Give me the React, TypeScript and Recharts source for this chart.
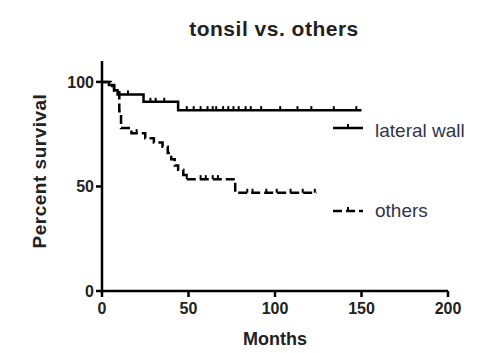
import React from 'react'
import { ComposedChart, Line, Scatter, XAxis, YAxis, Customized } from 'recharts'

// Kaplan-Meier steps: month, percent survival
const lateralWall = [
  { m: 0, s: 100 }, { m: 4, s: 98.5 }, { m: 7, s: 96 }, { m: 9, s: 94 },
  { m: 24, s: 90.5 }, { m: 44, s: 86.5 }, { m: 150, s: 86.5 },
]
const others = [
  { m: 0, s: 100 }, { m: 5, s: 98 }, { m: 7, s: 95 }, { m: 10, s: 86 },
  { m: 11, s: 78 }, { m: 17, s: 75.5 }, { m: 25, s: 73 }, { m: 30, s: 71 },
  { m: 35, s: 69 }, { m: 38, s: 66 }, { m: 40, s: 63 }, { m: 42, s: 60 },
  { m: 44, s: 58 }, { m: 47, s: 55.5 }, { m: 49, s: 53.5 }, { m: 76, s: 53.5 },
  { m: 77, s: 47 }, { m: 124, s: 47 },
]
// censored observations (tick marks)
const lateralCensor = [
  15, 28, 31, 36, 49, 53, 57, 61, 64, 66, 70, 73, 76, 79, 83, 86, 92, 103, 113, 121, 134, 147,
].map(m => ({ m, s: m < 24 ? 94 : m < 44 ? 90.5 : 86.5 }))
const othersCensor = [20, 49, 57, 60, 64, 67, 84, 87, 95, 101, 109, 116, 123]
  .map(m => ({ m, s: m < 25 ? 75.5 : m < 77 ? 53.5 : 47 }))

const xTicks = [0, 50, 100, 150, 200]
const yTicks = [0, 50, 100]

const FONT = '"Liberation Sans", Arial, sans-serif'
const tickStyle = { fontSize: 16, fill: '#222', fontWeight: 'bold', fontFamily: FONT }

const CensorMark = (p: any) => (
  <line x1={p.cx} x2={p.cx} y1={p.cy - 4} y2={p.cy} stroke="#000" strokeWidth={2} />
)

const Overlay = () => (
  <g fontFamily={FONT} fill="#222">
    <text x={274} y={36} textAnchor="middle" fontSize={21} fontWeight="bold" letterSpacing={0.5}>
      tonsil vs. others
    </text>
    <text x={275} y={345} textAnchor="middle" fontSize={18} fontWeight="bold">Months</text>
    <text x={0} y={0} transform="translate(46,171) rotate(-90)" textAnchor="middle" fontSize={19} fontWeight="bold" letterSpacing={0.5}>
      Percent survival
    </text>
    <line x1={333} x2={363} y1={128} y2={128} stroke="#000" strokeWidth={2.5} />
    <line x1={348} x2={348} y1={124} y2={128} stroke="#000" strokeWidth={2} />
    <text x={375} y={137} fontSize={19} fill="#33334a">lateral wall</text>
    <line x1={333} x2={363} y1={211} y2={211} stroke="#000" strokeWidth={2.5} strokeDasharray="9 4" />
    <line x1={348} x2={348} y1={207} y2={211} stroke="#000" strokeWidth={2} />
    <text x={375} y={217} fontSize={19} fill="#33334a">others</text>
  </g>
)

export default function App() {
  return (
    <div style={{ position: 'absolute', top: 0, left: 0, background: '#fff' }}>
      <ComposedChart width={488} height={353} margin={{ top: 61, right: 40, bottom: 17, left: 0 }}>
        <XAxis
          type="number"
          dataKey="m"
          domain={[0, 200]}
          ticks={xTicks}
          height={45}
          tick={tickStyle}
          tickSize={6}
          tickMargin={6}
          axisLine={{ stroke: '#000', strokeWidth: 2.5 }}
          tickLine={{ stroke: '#000', strokeWidth: 2.5 }}
        />
        <YAxis
          type="number"
          dataKey="s"
          domain={[0, 110]}
          ticks={yTicks}
          width={102}
          tick={tickStyle}
          tickSize={6}
          axisLine={{ stroke: '#000', strokeWidth: 2.5 }}
          tickLine={{ stroke: '#000', strokeWidth: 2.5 }}
        />
        <Line
          data={lateralWall}
          dataKey="s"
          type="stepAfter"
          stroke="#000"
          strokeWidth={2.5}
          dot={false}
          isAnimationActive={false}
        />
        <Line
          data={others}
          dataKey="s"
          type="stepAfter"
          stroke="#000"
          strokeWidth={2.5}
          strokeDasharray="9 4"
          dot={false}
          isAnimationActive={false}
        />
        <Scatter data={lateralCensor} dataKey="s" shape={CensorMark} isAnimationActive={false} />
        <Scatter data={othersCensor} dataKey="s" shape={CensorMark} isAnimationActive={false} />
        <Customized component={Overlay} />
      </ComposedChart>
    </div>
  )
}
